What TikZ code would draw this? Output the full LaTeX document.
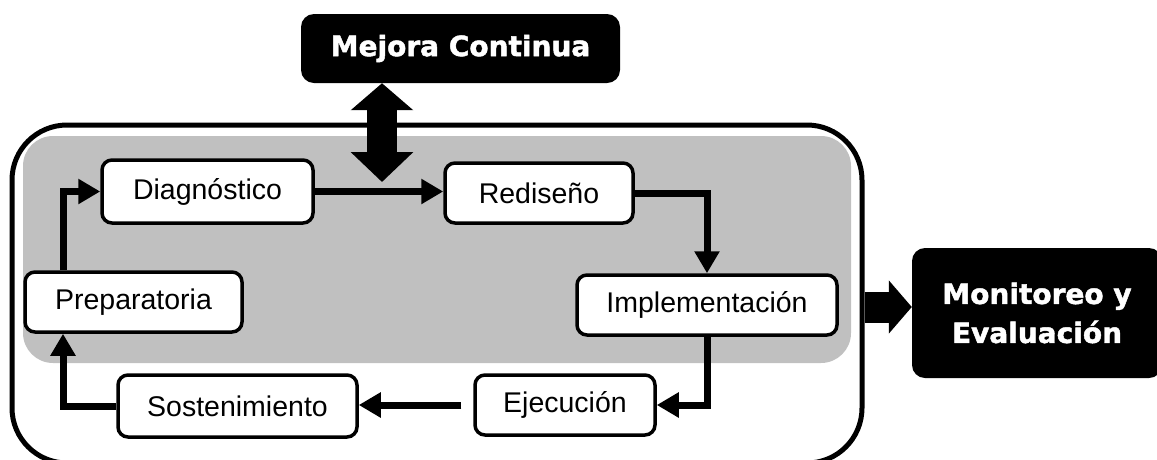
\documentclass[tikz,border=0pt]{standalone}
\usepackage{fontspec}
\setmainfont{Liberation Sans}
\newfontfamily\heavyfont{DejaVu Sans}[BoldFeatures={FakeBold=1.6}]
\usetikzlibrary{arrows.meta}
\definecolor{panelgray}{RGB}{192,192,192}
\begin{document}
\begin{tikzpicture}[x=1pt,y=-1pt,
  stepbox/.style={draw, fill=white, line width=3.5pt, rounded corners=10pt,
    font=\fontsize{28.5}{30}\selectfont, inner sep=0pt},
  conn/.style={line width=7pt, -{Triangle[length=22pt,width=24pt]}},
  dark/.style={fill=black, text=white, rounded corners=13pt, inner sep=0pt,
    font=\heavyfont\bfseries\fontsize{28}{39}\selectfont, align=center},
  fat/.style={line width=30pt}]
\useasboundingbox (0,0) rectangle (1157,459);

% frames
\node[draw, line width=5pt, rounded corners=55pt, minimum width=850pt, minimum height=338pt] (outer) at (437,294) {};
\node[fill=panelgray, rounded corners=30pt, minimum width=828pt, minimum height=227pt, inner sep=0pt] (panel) at (437,249.5) {};

% steps
\node[stepbox, minimum width=211pt, minimum height=63pt] (diag) at (207.5,191.5) {Diagnóstico};
\node[stepbox, minimum width=188pt, minimum height=60pt] (red) at (539,193) {Rediseño};
\node[stepbox, minimum width=260pt, minimum height=60pt] (impl) at (707,305) {Implementación};
\node[stepbox, minimum width=217pt, minimum height=60pt] (prep) at (133.5,302) {Preparatoria};
\node[stepbox, minimum width=239pt, minimum height=62pt] (sost) at (237.5,406) {Sostenimiento};
\node[stepbox, minimum width=180pt, minimum height=60pt] (ejec) at (565,405) {Ejecución};

\coordinate (lx) at (63,0);
\draw[conn] (prep.north -| lx) |- (diag.west);
\draw[conn] (diag.east) -- (diag.east -| red.west);
\draw[conn] (red.east) -| (impl.north);
\draw[conn] (impl.south) |- (ejec.east);
\draw[conn, shorten <=12pt] (ejec.west) -- (ejec.west -| sost.east);
\draw[conn] (sost.west) -| (prep.south -| lx);

% outer boxes
\node[dark, minimum width=319pt, minimum height=69pt] (mejora) at (460.5,48.5) {Mejora Continua};
\node[dark, minimum width=250pt, minimum height=130pt] (mon) at (1037,313) {Monitoreo y\\Evaluación};

\coordinate (ax) at (382,182);
\draw[fat, {Triangle[length=27pt,width=61pt]}-{Triangle[length=30pt,width=61pt]}] (mejora.south -| ax) -- (ax);
\coordinate (my) at (0,307);
\draw[line width=31pt, -{Triangle[length=23pt,width=52pt]}] (outer.east |- my) -- (mon.west |- my);
\end{tikzpicture}
\end{document}
